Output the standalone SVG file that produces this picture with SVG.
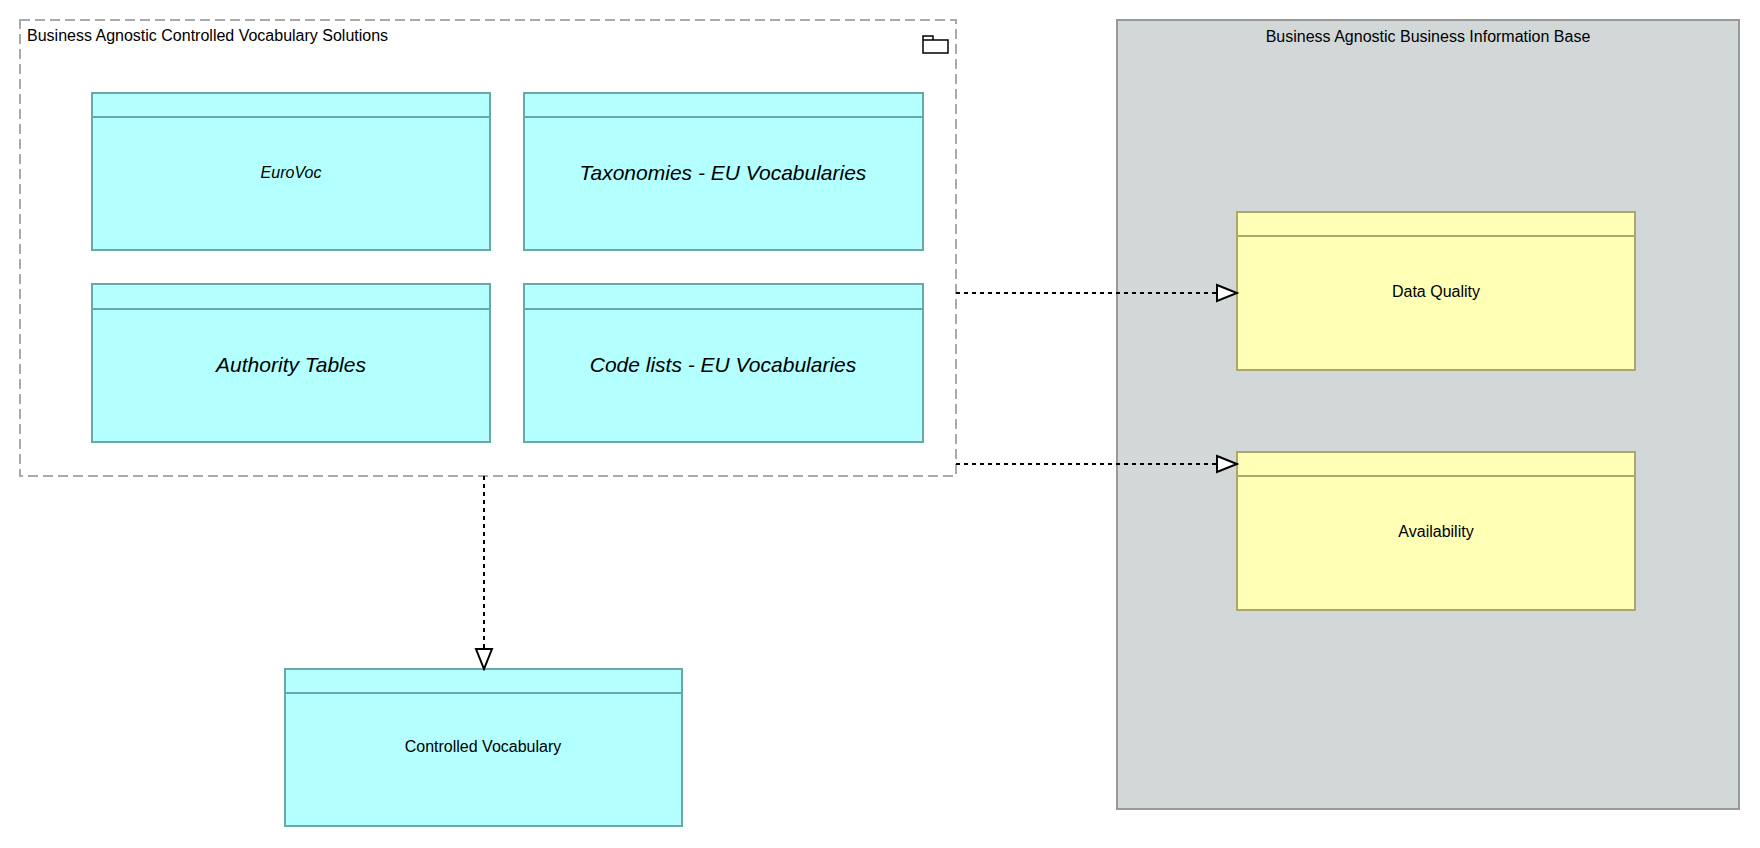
<svg xmlns="http://www.w3.org/2000/svg" width="1760" height="848" viewBox="0 0 1760 848">
<style>
text{font-family:"Liberation Sans",Arial,sans-serif;fill:#000}
.cv{fill:#b4ffff;stroke:#6aa8a8;stroke-width:2}
.bo{fill:#ffffb5;stroke:#aaa86a;stroke-width:2}
.it{font-style:italic;font-size:21px}
.n{font-size:16px}
.con{stroke:#000;stroke-width:2;stroke-dasharray:4 4;fill:none}
</style>
<defs>
<marker id="tri" markerWidth="24" markerHeight="20" refX="22" refY="10" orient="auto" markerUnits="userSpaceOnUse">
<path d="M2,2 L22,10 L2,18 Z" fill="#fff" stroke="#000" stroke-width="2"/>
</marker>
</defs>
<g id="bab">
<rect x="1117" y="20" width="622" height="789" fill="#d2d8d8" stroke="#999" stroke-width="2"/>
<text x="1428" y="42" text-anchor="middle" class="n">Business Agnostic Business Information Base</text>
</g>
<g id="pkg">
<rect x="20" y="20" width="936" height="456" fill="#fff" stroke="#aaa" stroke-width="2" stroke-dasharray="10 5"/>
<text x="27" y="41" class="n">Business Agnostic Controlled Vocabulary Solutions</text>
<path d="M923,36 h10 v4 h15 v13 h-25 Z M923,40 h10" fill="none" stroke="#000" stroke-width="1.5"/>
</g>
<g id="eurovoc"><rect class="cv" x="92" y="93" width="398" height="157"/><line class="cv" x1="92" y1="117" x2="490" y2="117"/><text x="291" y="178" text-anchor="middle" class="n" font-style="italic">EuroVoc</text></g>
<g id="taxonomies"><rect class="cv" x="524" y="93" width="399" height="157"/><line class="cv" x1="524" y1="117" x2="923" y2="117"/><text x="723" y="180" text-anchor="middle" class="it">Taxonomies - EU Vocabularies</text></g>
<g id="authority"><rect class="cv" x="92" y="284" width="398" height="158"/><line class="cv" x1="92" y1="309" x2="490" y2="309"/><text x="291" y="372" text-anchor="middle" class="it">Authority Tables</text></g>
<g id="codelists"><rect class="cv" x="524" y="284" width="399" height="158"/><line class="cv" x1="524" y1="309" x2="923" y2="309"/><text x="723" y="372" text-anchor="middle" class="it">Code lists - EU Vocabularies</text></g>
<g id="dataquality"><rect class="bo" x="1237" y="212" width="398" height="158"/><line class="bo" x1="1237" y1="236" x2="1635" y2="236"/><text x="1436" y="297" text-anchor="middle" class="n">Data Quality</text></g>
<g id="availability"><rect class="bo" x="1237" y="452" width="398" height="158"/><line class="bo" x1="1237" y1="476" x2="1635" y2="476"/><text x="1436" y="537" text-anchor="middle" class="n">Availability</text></g>
<g id="controlled"><rect class="cv" x="285" y="669" width="397" height="157"/><line class="cv" x1="285" y1="693" x2="682" y2="693"/><text x="483" y="752" text-anchor="middle" class="n">Controlled Vocabulary</text></g>
<g id="connectors">
<line class="con" x1="956" y1="293" x2="1237" y2="293" marker-end="url(#tri)"/>
<line class="con" x1="956" y1="464" x2="1237" y2="464" marker-end="url(#tri)"/>
<line class="con" x1="484" y1="476" x2="484" y2="669" marker-end="url(#tri)"/>
</g>
</svg>
